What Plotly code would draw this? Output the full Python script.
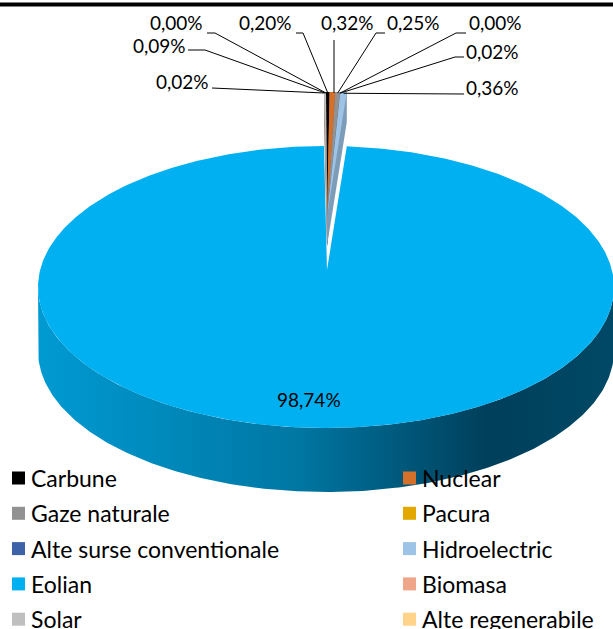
import numpy as np
import plotly.graph_objects as go

# ---------------- data ----------------
categories = ["Carbune", "Nuclear", "Gaze naturale", "Pacura",
              "Alte surse conventionale", "Hidroelectric", "Eolian",
              "Biomasa", "Solar", "Alte regenerabile"]
values = [0.20, 0.32, 0.25, 0.00, 0.02, 0.36, 98.74, 0.02, 0.09, 0.00]
colors = ["#000000", "#D5702A", "#929292", "#E2A800", "#3E62A8",
          "#9DC3E6", "#00B0F0", "#EFA587", "#BFBFBF", "#FFD38A"]

# ---------------- layout constants ----------------
W, H = 613, 629
CX, CY, RX, RY = 326, 287, 288, 141      # top-face ellipse
APX, APY = 327, 270                      # projected pie centre
DEPTH = 64
EXPLODE = 54
SLIVER_DEPTH = 30
FONT = "Lato"
LABEL_SIZE = 19
LEGEND_SIZE = 23

# label text position (x, y) and leader elbow(s) for each small slice
label_layout = {
    "Carbune":                  dict(t=(265, 22), pts=[(296, 33), (303, 33)]),
    "Nuclear":                  dict(t=(347, 22), pts=[(334, 40)], vertical=True),
    "Gaze naturale":            dict(t=(413, 22), pts=[(385, 33), (376, 33)]),
    "Pacura":                   dict(t=(495, 22), pts=[(466, 33), (456, 33)]),
    "Alte surse conventionale": dict(t=(492, 51), pts=[(464, 57), (455, 57)]),
    "Hidroelectric":            dict(t=(492, 87), pts=[(464, 94)]),
    "Biomasa":                  dict(t=(182, 81), pts=[(212, 88)]),
    "Solar":                    dict(t=(159, 45), pts=[(188, 50), (205, 50)]),
    "Alte regenerabile":        dict(t=(176, 22), pts=[(207, 33), (215, 33)]),
}


def fmt(v):
    return f"{v:.2f}".replace(".", ",") + "%"


def rim(theta, dy=0.0):
    th = np.radians(theta)
    return CX + RX * np.sin(th), CY - RY * np.cos(th) + dy


def darken(hexc, f):
    hexc = hexc.lstrip("#")
    r, g, b = (int(hexc[i:i + 2], 16) for i in (0, 2, 4))
    return "rgb(%d,%d,%d)" % (r * f, g * f, b * f)


def hull(points):
    pts = sorted(set(points))
    if len(pts) < 3:
        return pts

    def cross(o, a, b):
        return (a[0] - o[0]) * (b[1] - o[1]) - (a[1] - o[1]) * (b[0] - o[0])
    lower, upper = [], []
    for p in pts:
        while len(lower) >= 2 and cross(lower[-2], lower[-1], p) <= 0:
            lower.pop()
        lower.append(p)
    for p in reversed(pts):
        while len(upper) >= 2 and cross(upper[-2], upper[-1], p) <= 0:
            upper.pop()
        upper.append(p)
    return lower[:-1] + upper[:-1]


total = sum(values)
cum = np.concatenate([[0], np.cumsum(values)]) / total * 360.0
big = int(np.argmax(values))
exploded = [i != big for i in range(len(values))]

fig = go.Figure()

# ---------------- exploded small slices (behind) ----------------
sliver_tip = {}
for i, (name, v) in enumerate(zip(categories, values)):
    a0, a1 = cum[i], cum[i + 1]
    mid = (a0 + a1) / 2
    dy = -EXPLODE if exploded[i] else 0
    sliver_tip[name] = rim(mid, dy + 1)
    if i == big or v <= 0:
        continue
    angs = np.linspace(a0, a1, 6)
    top = [(APX, APY + dy)] + [rim(a, dy) for a in angs]
    body = hull([(round(x, 3), round(y, 3)) for x, y in top] +
                [(round(x, 3), round(y + SLIVER_DEPTH, 3)) for x, y in top])
    bx = [p[0] for p in body] + [body[0][0]]
    by = [p[1] for p in body] + [body[0][1]]
    fig.add_trace(go.Scatter(x=bx, y=by, fill="toself", mode="lines",
                             line=dict(width=0), fillcolor=darken(colors[i], 0.8),
                             hoverinfo="skip", showlegend=False))
    fig.add_trace(go.Scatter(x=[p[0] for p in top] + [top[0][0]],
                             y=[p[1] for p in top] + [top[0][1]],
                             fill="toself", mode="lines", line=dict(width=0),
                             fillcolor=colors[i], name=name,
                             hoverinfo="name", showlegend=False))

# ---------------- big slice: side + top ----------------
a0, a1 = cum[big], cum[big + 1]
s0, s1 = max(a0, 90.0), min(a1, 270.0)
sa = np.linspace(s0, s1, 240)
side_top = [rim(a) for a in sa]
side_bot = [rim(a, DEPTH) for a in sa[::-1]]
side = side_top + side_bot + [side_top[0]]
fig.add_trace(go.Scatter(
    x=[p[0] for p in side], y=[p[1] for p in side], mode="lines",
    line=dict(width=0), fill="toself",
    fillgradient=dict(type="horizontal",
                      colorscale=[[0, "#009AD2"], [0.45, "#0077A3"],
                                  [0.78, "#003F5B"], [1, "#004966"]]),
    hoverinfo="skip", showlegend=False))

ta = np.linspace(a0, a1, 600)
top = [(APX, APY)] + [rim(a) for a in ta] + [(APX, APY)]
fig.add_trace(go.Scatter(x=[p[0] for p in top], y=[p[1] for p in top],
                         fill="toself", mode="lines", line=dict(width=0),
                         fillcolor=colors[big], name=categories[big],
                         hoverinfo="name", showlegend=False))

# big slice label
mid = (a0 + a1) / 2
mx, my = rim(mid)
fig.add_annotation(x=APX + 0.82 * (mx - APX) - 9, y=APY + 0.82 * (my - APY),
                   text=fmt(values[big]), showarrow=False,
                   font=dict(family=FONT, size=LABEL_SIZE, color="#000"))

# ---------------- small labels with leader lines ----------------
for i, name in enumerate(categories):
    if i == big:
        continue
    lay = label_layout[name]
    pts = list(lay["pts"])
    tip = sliver_tip[name]
    if lay.get("vertical"):
        pts = [pts[0], (pts[0][0], tip[1])]
    else:
        pts = pts + [tip]
    fig.add_trace(go.Scatter(x=[p[0] for p in pts], y=[p[1] for p in pts],
                             mode="lines", line=dict(color="#000", width=1),
                             hoverinfo="skip", showlegend=False))
    fig.add_annotation(x=lay["t"][0], y=lay["t"][1], text=fmt(values[i]),
                       showarrow=False,
                       font=dict(family=FONT, size=LABEL_SIZE, color="#000"))

# ---------------- legend (2 columns, row-major) ----------------
LEG_X = [18.5, 409.5]
LEG_Y0, LEG_DY = 478, 35.3
lx = [LEG_X[k % 2] for k in range(len(categories))]
ly = [LEG_Y0 + (k // 2) * LEG_DY for k in range(len(categories))]
fig.add_trace(go.Scatter(x=lx, y=ly, mode="markers",
                         marker=dict(symbol="square", size=13, color=colors,
                                     line=dict(width=0)),
                         hoverinfo="skip", showlegend=False))
for k, name in enumerate(categories):
    fig.add_annotation(x=lx[k] + 10, y=ly[k], text=name, showarrow=False,
                       xanchor="left", yanchor="middle",
                       font=dict(family=FONT, size=LEGEND_SIZE, color="#000"))

# top border line
fig.add_shape(type="line", x0=0, x1=W, y0=4.5, y1=4.5,
              line=dict(color="#000", width=4), layer="above")

fig.update_xaxes(range=[0, W], visible=False, fixedrange=True)
fig.update_yaxes(range=[H, 0], visible=False, fixedrange=True)
fig.update_layout(width=W, height=H, margin=dict(l=0, r=0, t=0, b=0),
                  paper_bgcolor="white", plot_bgcolor="white",
                  showlegend=False)

fig.write_html("out.html",
               config={"displayModeBar": False},
               post_script="document.body.style.margin='0';"
                           "document.body.style.overflow='hidden';")
